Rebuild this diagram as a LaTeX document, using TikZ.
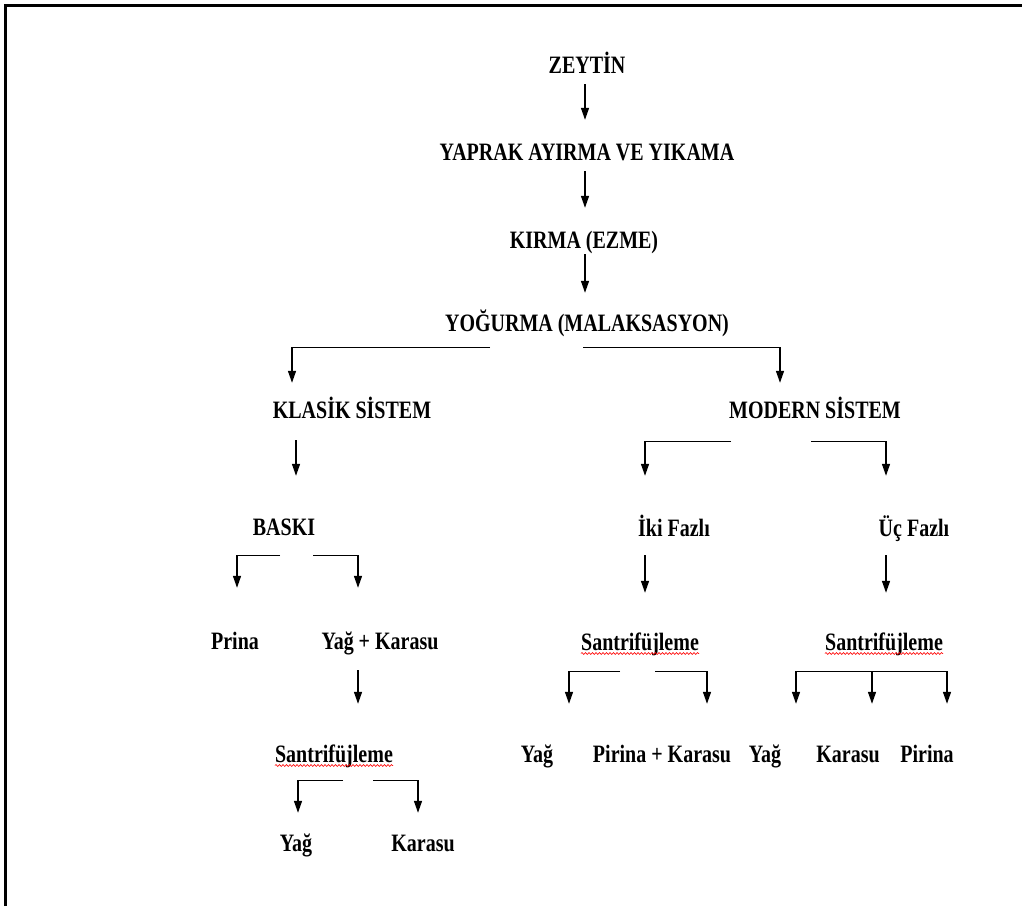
\documentclass[tikz,border=0pt]{standalone}
\usepackage{fontspec}
\setmainfont{Liberation Serif}[FakeStretch=0.8]
\usetikzlibrary{arrows.meta,decorations.pathmorphing,calc}
\begin{document}
\begin{tikzpicture}[x=1pt,y=-1pt,
  lbl/.style={font=\bfseries\fontsize{25}{28}\selectfont, inner sep=0pt, anchor=base, text height=17pt, text depth=5pt},
  arr/.style={-{Triangle[length=12pt,width=8pt]}, line width=1.4pt},
  ln/.style={line width=1.4pt},
  sq/.style={red, line width=0.6pt, decorate, decoration={snake,amplitude=1pt,segment length=3.5pt}},
  frame/.style={line width=3pt}]
\useasboundingbox (0,0) rectangle (1022,906);
\draw[frame] (5,906) -- (5,5) -- (1022,5);

% nodes
\node[lbl] (zey) at (587,73) {ZEYTİN};
\node[lbl] (yap) at (587,160) {YAPRAK AYIRMA VE YIKAMA};
\node[lbl] (kir) at (584,248) {KIRMA (EZME)};
\node[lbl] (yog) at (587,331) {YOĞURMA (MALAKSASYON)};
\node[lbl] (kla) at (352,418) {KLASİK SİSTEM};
\node[lbl] (mod) at (815,418) {MODERN SİSTEM};
\node[lbl] (bas) at (284,535) {BASKI};
\node[lbl] (pri) at (235,649) {Prina};
\node[lbl] (yk) at (380,649) {Yağ + Karasu};
\node[lbl] (san1) at (334,762) {Santrifüjleme};
\node[lbl] (yag1) at (296,851) {Yağ};
\node[lbl] (kar1) at (423,851) {Karasu};
\node[lbl] (iki) at (674,536) {İki Fazlı};
\node[lbl] (uc) at (914,536) {Üç Fazlı};
\node[lbl] (san2) at (640,650) {Santrifüjleme};
\node[lbl] (san3) at (884,650) {Santrifüjleme};
\node[lbl] (yag2) at (537,762) {Yağ};
\node[lbl] (pk) at (662,762) {Pirina + Karasu};
\node[lbl] (yag3) at (765,762) {Yağ};
\node[lbl] (kar3) at (848,762) {Karasu};
\node[lbl] (pir3) at (927,762) {Pirina};

% spell-check squiggles
\foreach \n in {san1,san2,san3}
  \draw[sq] ([yshift=-3.5pt]\n.base west) -- ([yshift=-3.5pt]\n.base east);

% main chain
\draw[arr] ([xshift=-2pt,yshift=-6pt]zey.south) -- ([xshift=-2pt,yshift=23pt]yap.north);
\draw[arr] ([xshift=-2pt,yshift=-6pt]yap.south) -- ([xshift=1pt,yshift=23pt]kir.north);
\draw[arr] ([xshift=1pt,yshift=-1pt]kir.south) -- ([xshift=-2pt,yshift=21pt]yog.north);

% yogurma branches
\draw[arr] ([xshift=-97pt,yshift=-11pt]yog.south) -| ([xshift=-60pt,yshift=18pt]kla.north);
\draw[arr] ([xshift=-4pt,yshift=-11pt]yog.south) -| ([xshift=-35pt,yshift=18pt]mod.north);

% klasik
\draw[arr] ([xshift=-56pt,yshift=-17pt]kla.south) -- ([xshift=12pt,yshift=42pt]bas.north);
\draw[arr] ([xshift=-4pt,yshift=-15pt]bas.south) -| ([xshift=2pt,yshift=44pt]pri.north);
\draw[arr] ([xshift=29pt,yshift=-15pt]bas.south) -| ([xshift=-22pt,yshift=44pt]yk.north);
\draw[arr] ([xshift=-22pt,yshift=-16pt]yk.south) -- ([xshift=24pt,yshift=41pt]san1.north);
\draw[arr] ([xshift=9pt,yshift=-13pt]san1.south) -| ([xshift=2pt,yshift=21pt]yag1.north);
\draw[arr] ([xshift=39pt,yshift=-13pt]san1.south) -| ([xshift=-5pt,yshift=21pt]kar1.north);

% modern
\draw[arr] ([xshift=-84pt,yshift=-18pt]mod.south) -| ([xshift=-29pt,yshift=43pt]iki.north);
\draw[arr] ([xshift=-4pt,yshift=-18pt]mod.south) -| ([xshift=-28pt,yshift=43pt]uc.north);
\draw[arr] ([xshift=-29pt,yshift=-14pt]iki.south) -- ([xshift=5pt,yshift=40pt]san2.north);
\draw[arr] ([xshift=-28pt,yshift=-14pt]uc.south) -- ([xshift=2pt,yshift=40pt]san3.north);
\draw[arr] ([xshift=-20pt,yshift=-16pt]san2.south) -| ([xshift=32pt,yshift=41pt]yag2.north);
\draw[arr] ([xshift=15pt,yshift=-16pt]san2.south) -| ([xshift=45pt,yshift=41pt]pk.north);
\draw[ln] ([xshift=-88pt,yshift=-16pt]san3.south) -- ([xshift=63pt,yshift=-16pt]san3.south);
\draw[arr] ([xshift=-88pt,yshift=-16pt]san3.south) -- ([xshift=31pt,yshift=41pt]yag3.north);
\draw[arr] ([xshift=-12pt,yshift=-16pt]san3.south) -- ([xshift=24pt,yshift=41pt]kar3.north);
\draw[arr] ([xshift=63pt,yshift=-16pt]san3.south) -- ([xshift=20pt,yshift=41pt]pir3.north);
\end{tikzpicture}
\end{document}
